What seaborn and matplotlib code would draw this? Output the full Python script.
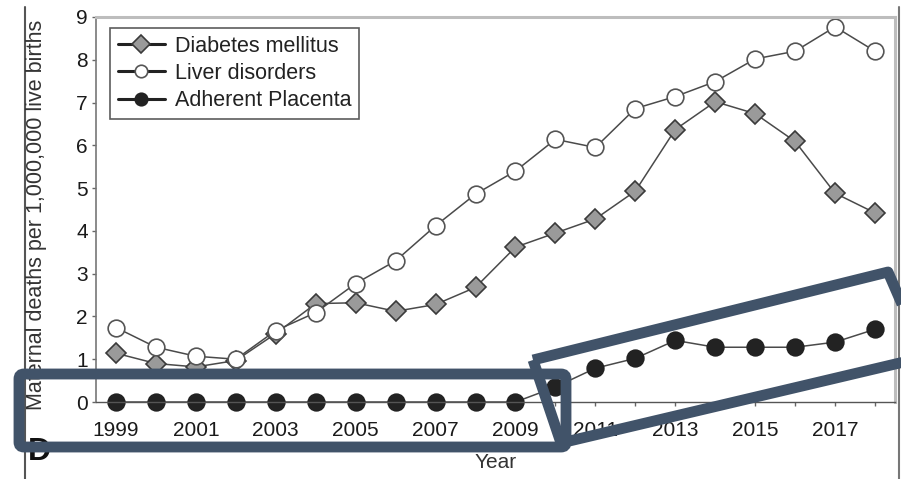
import matplotlib
matplotlib.use("Agg")
import matplotlib.pyplot as plt
from matplotlib import patches, lines as mlines
from matplotlib.transforms import IdentityTransform
import numpy as np
import pandas as pd
import seaborn as sns

# ---- data -------------------------------------------------------------
years = list(range(1999, 2019))
diabetes = [1.14, 0.90, 0.82, 0.97, 1.60, 2.30, 2.32, 2.12, 2.28, 2.68,
            3.62, 3.95, 4.28, 4.93, 6.37, 7.02, 6.74, 6.09, 4.88, 4.42]
liver = [1.74, 1.28, 1.07, 1.00, 1.67, 2.09, 2.77, 3.30, 4.12, 4.86,
         5.40, 6.14, 5.95, 6.86, 7.14, 7.49, 8.02, 8.20, 8.77, 8.20]
placenta = [0, 0, 0, 0, 0, 0, 0, 0, 0, 0, 0,
            0.35, 0.79, 1.02, 1.44, 1.28, 1.28, 1.28, 1.40, 1.70]
series_names = ["Diabetes mellitus", "Liver disorders", "Adherent Placenta"]
y_ticks = list(range(0, 10))
x_tick_labels = [str(y) if y % 2 == 1 else "" for y in years]

# ---- figure -----------------------------------------------------------
W, H = 901, 479
sns.set_theme(style="white")
plt.rcParams["font.family"] = ["Liberation Sans", "DejaVu Sans"]
fig = plt.figure(figsize=(W / 100, H / 100), dpi=100)
ax = fig.add_axes([96 / W, 1 - 402 / H, (895 - 96) / W, (402 - 17) / H])

df = pd.DataFrame({"year": years * 3,
                   "value": diabetes + liver + placenta,
                   "series": np.repeat(series_names, len(years))})

line_col = "#4a4a4a"
styles = {
    "Diabetes mellitus": dict(marker="D", markersize=10, markerfacecolor="#9a9a9a",
                              markeredgecolor="#3a3a3a"),
    "Liver disorders": dict(marker="o", markersize=12, markerfacecolor="white",
                            markeredgecolor="#555555"),
    "Adherent Placenta": dict(marker="o", markersize=12, markerfacecolor="#222222",
                              markeredgecolor="#222222"),
}
handles = []
for name in series_names:
    sub = df[df["series"] == name]
    sns.lineplot(data=sub, x="year", y="value", ax=ax, color=line_col,
                 linewidth=1.1, markeredgewidth=1.2, clip_on=False,
                 legend=False, **styles[name])
    handles.append(mlines.Line2D([], [], color="#222222", linewidth=2.2,
                                 markeredgewidth=1.2,
                                 **{k: v for k, v in styles[name].items()
                                    if k != "markersize"},
                                 markersize=9))

ax.set_xlim(1998.5, 2018.5)
ax.set_ylim(0, 9)
ax.set_xticks(years)
ax.set_xticklabels(x_tick_labels)
ax.set_yticks(y_ticks)
ax.tick_params(axis="x", direction="out", length=3, width=1, color="#666666",
               pad=11, labelsize=15, labelcolor="#1a1a1a", bottom=True)
ax.tick_params(axis="y", direction="out", length=3, width=1, color="#666666",
               pad=3, labelsize=15, labelcolor="#1a1a1a", left=True)
ax.set_xlabel("Year", fontsize=15, color="#333333", labelpad=9)
ax.set_ylabel("")

ax.spines["left"].set_color("#777777")
ax.spines["left"].set_linewidth(1.2)
ax.spines["bottom"].set_color("#555555")
ax.spines["bottom"].set_linewidth(1.0)
for s in ("top", "right"):
    ax.spines[s].set_color("#bdbdbd")
    ax.spines[s].set_linewidth(2.2)

fig.text(36.5 / W, 1 - 215 / H, "Maternal deaths per 1,000,000 live births",
         rotation=90, ha="center", va="center", fontsize=15.5, color="#333333")

leg = ax.legend(handles, series_names, loc="upper left",
                bbox_to_anchor=((110 - 96) / 799, (402 - 28) / 385),
                borderaxespad=0, frameon=True, fancybox=False, fontsize=15.5,
                handlelength=2.2, handletextpad=0.45, labelspacing=0.3,
                borderpad=0.35)
leg.get_frame().set_edgecolor("#333333")
leg.get_frame().set_linewidth(1.2)
for t in leg.get_texts():
    t.set_color("#222222")

# panel letter and page frame lines
fig.text(28 / W, 1 - 460 / H, "D", fontsize=23, fontweight="bold",
         color="#111111", ha="left", va="baseline")
fig.add_artist(mlines.Line2D([25 / W, 25 / W], [0, 1 - 7 / H], color="#555555",
                             linewidth=1.5, transform=fig.transFigure))
fig.add_artist(mlines.Line2D([899 / W, 899 / W], [0, 1 - 7 / H], color="#777777",
                             linewidth=1.5, transform=fig.transFigure))

# highlight frames drawn in pixel coordinates
hl = "#415369"
box1 = patches.FancyBboxPatch((19, H - 447), 566 - 19, 447 - 374,
                              boxstyle="round,pad=0,rounding_size=5",
                              fill=False, edgecolor=hl, linewidth=7.8,
                              transform=IdentityTransform(), zorder=10)
fig.add_artist(box1)
quad = [(533, 360), (888, 272), (925, 357), (561, 443)]
box2 = patches.Polygon([(x, H - y) for x, y in quad], closed=True, fill=False,
                       edgecolor=hl, linewidth=7.8, joinstyle="round",
                       transform=IdentityTransform(), zorder=10)
fig.add_artist(box2)

fig.savefig("out.png", dpi=100)
